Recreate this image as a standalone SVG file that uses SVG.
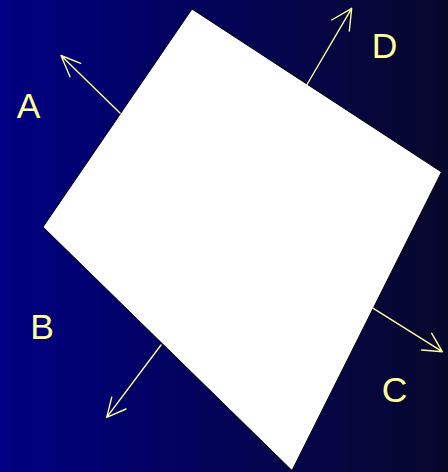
<svg xmlns="http://www.w3.org/2000/svg" width="448" height="472" viewBox="0 0 448 472">
<defs>
<linearGradient id="bg" x1="0" y1="0" x2="1" y2="0">
<stop offset="0" stop-color="#000082"/>
<stop offset="1" stop-color="#07072c"/>
</linearGradient>
<style>
.arr{fill:none;stroke:#ffff99;stroke-width:1.4;stroke-linecap:round;stroke-linejoin:round}
.lbl{font-family:"Liberation Sans",Arial,sans-serif;font-size:35.5px;fill:#ffff99;text-anchor:middle}
</style>
</defs>
<rect width="448" height="472" fill="url(#bg)"/>
<g id="quad">
<polygon points="192,9 441.5,172 292,470.5 43,227" fill="#ffffff" stroke="#000000" stroke-width="1"/>
</g>
<g id="connectors">
<path class="arr" d="M120,113 L61,55.5 M80.7,63.3 L61,55.5 L70,76.7"/>
<path class="arr" d="M306.7,85 L351.7,8.3 M331.7,20 L351.7,8.3 L349.3,31"/>
<path class="arr" d="M373.3,308.3 L442.3,351.7 M431.7,333.3 L442.3,351.7 L421.7,350"/>
<path class="arr" d="M161,345 L106.7,417.3 M111.7,397.3 L106.7,417.3 L126,409"/>
</g>
<g id="label-A"><text class="lbl" x="28.5" y="117.5">A</text></g>
<g id="label-D"><text class="lbl" x="384.5" y="57.5">D</text></g>
<g id="label-C"><text class="lbl" x="394.5" y="401.5">C</text></g>
<g id="label-B"><text class="lbl" x="42" y="338.5">B</text></g>
</svg>
